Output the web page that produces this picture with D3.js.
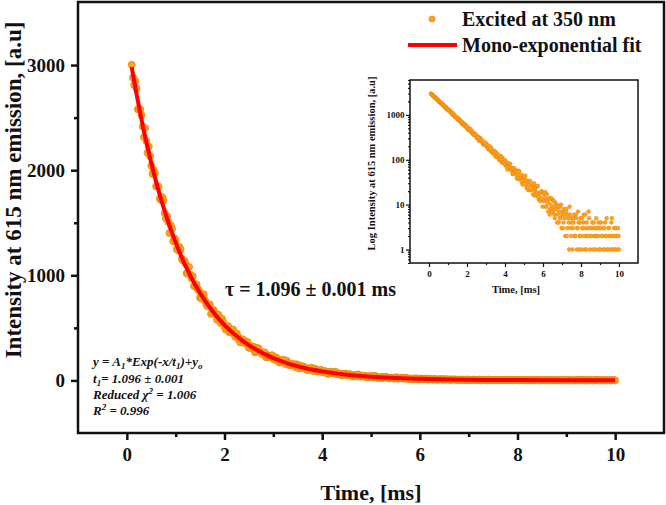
<!DOCTYPE html>
<html>
<head>
<meta charset="utf-8">
<script src="https://cdn.jsdelivr.net/npm/d3@7"></script>
<style>
  body { margin: 0; background: #fff; }
  text { font-family: "Liberation Serif", "Times New Roman", serif; font-weight: bold; fill: #111; }
</style>
</head>
<body>
<svg></svg>
<script>
// measured decay, time in ms and intensity in counts (channels on the 0.05 ms grid)
const timeMs = [
  0.10,0.15,0.20,0.25,0.30,0.35,0.40,0.45,0.50,0.55,0.60,0.65,0.70,0.75,0.80,0.85,0.90,0.95,1.00,1.05,
  1.10,1.15,1.20,1.25,1.30,1.35,1.40,1.45,1.50,1.55,1.60,1.65,1.70,1.75,1.80,1.85,1.90,1.95,2.00,2.05,
  2.10,2.15,2.20,2.25,2.30,2.35,2.40,2.45,2.50,2.55,2.60,2.65,2.70,2.75,2.80,2.85,2.90,2.95,3.00,3.05,
  3.10,3.15,3.20,3.25,3.30,3.35,3.40,3.45,3.50,3.55,3.60,3.65,3.70,3.75,3.80,3.85,3.90,3.95,4.00,4.05,
  4.10,4.15,4.20,4.25,4.30,4.35,4.40,4.45,4.50,4.55,4.60,4.65,4.70,4.75,4.80,4.85,4.90,4.95,5.00,5.05,
  5.10,5.15,5.20,5.25,5.30,5.35,5.40,5.45,5.50,5.55,5.60,5.65,5.70,5.75,5.80,5.85,5.90,5.95,6.00,6.05,
  6.10,6.15,6.20,6.25,6.30,6.35,6.40,6.45,6.50,6.55,6.60,6.65,6.70,6.75,6.80,6.85,6.90,6.95,7.00,7.05,
  7.10,7.15,7.20,7.25,7.30,7.35,7.40,7.45,7.50,7.55,7.60,7.65,7.70,7.75,7.80,7.85,7.90,7.95,8.00,8.05,
  8.10,8.15,8.20,8.25,8.30,8.35,8.40,8.45,8.50,8.55,8.60,8.65,8.70,8.75,8.80,8.85,8.90,8.95,9.00,9.05,
  9.10,9.15,9.20,9.25,9.30,9.35,9.40,9.45,9.50,9.55,9.60,9.65,9.70,9.75,9.80,9.85,9.90,9.95,10.00
];
const counts = [
  3003,2811,2778,2585,2524,2315,2277,2226,2043,1999,1846,1843,1716,1713,1542,1508,1475,1325,1334,1239,
  1245,1141,1116,1015,1007,990,896,870,789,819,765,706,722,654,648,577,588,587,513,506,
  459,477,435,447,385,393,358,369,312,325,317,277,302,264,265,221,236,235,205,220,
  184,185,198,156,167,150,159,127,141,142,116,120,98,116,101,113,85,93,82,91,
  68,80,72,80,59,66,48,64,54,60,46,50,39,55,40,44,31,38,42,30,
  35,23,34,27,34,21,26,22,28,16,24,19,26,15,18,12,19,13,19,12,
  14,9,17,11,13,6,10,8,13,9,6,11,8,4,9,7,5,10,6,3,
  8,5,7,2,6,4,9,3,5,1,4,6,2,5,3,7,1,4,2,5,
  3,6,1,3,4,2,7,0,3,2,4,1,3,2,5,0,2,3,1,4,
  2,0,3,1,2,5,1,3,2,0,4,1,2,3,1,2,0,3,1
];
// channels in between (0.025 ms offset)
const timeMid = [
  0.125,0.175,0.225,0.275,0.325,0.375,0.425,0.475,0.525,0.575,0.625,0.675,0.725,0.775,0.825,0.875,0.925,0.975,1.025,1.075,
  1.125,1.175,1.225,1.275,1.325,1.375,1.425,1.475,1.525,1.575,1.625,1.675,1.725,1.775,1.825,1.875,1.925,1.975,2.025,2.075,
  2.125,2.175,2.225,2.275,2.325,2.375,2.425,2.475,2.525,2.575,2.625,2.675,2.725,2.775,2.825,2.875,2.925,2.975,3.025,3.075,
  3.125,3.175,3.225,3.275,3.325,3.375,3.425,3.475,3.525,3.575,3.625,3.675,3.725,3.775,3.825,3.875,3.925,3.975,4.025,4.075,
  4.125,4.175,4.225,4.275,4.325,4.375,4.425,4.475,4.525,4.575,4.625,4.675,4.725,4.775,4.825,4.875,4.925,4.975,5.025,5.075,
  5.125,5.175,5.225,5.275,5.325,5.375,5.425,5.475,5.525,5.575,5.625,5.675,5.725,5.775,5.825,5.875,5.925,5.975,6.025,6.075,
  6.125,6.175,6.225,6.275,6.325,6.375,6.425,6.475,6.525,6.575,6.625,6.675,6.725,6.775,6.825,6.875,6.925,6.975,7.025,7.075,
  7.125,7.175,7.225,7.275,7.325,7.375,7.425,7.475,7.525,7.575,7.625,7.675,7.725,7.775,7.825,7.875,7.925,7.975,8.025,8.075,
  8.125,8.175,8.225,8.275,8.325,8.375,8.425,8.475,8.525,8.575,8.625,8.675,8.725,8.775,8.825,8.875,8.925,8.975,9.025,9.075,
  9.125,9.175,9.225,9.275,9.325,9.375,9.425,9.475,9.525,9.575,9.625,9.675,9.725,9.775,9.825,9.875,9.925,9.975
];
const countsMid = [
  2882,2848,2579,2577,2416,2401,2165,2134,1964,1974,1851,1729,1744,1592,1562,1402,1445,1351,1247,1271,
  1158,1142,1020,1079,972,899,915,857,778,820,726,722,633,671,619,625,545,554,485,517,
  462,485,414,416,361,390,356,364,309,322,267,309,275,248,266,220,233,240,200,208,
  170,193,170,188,144,154,138,154,115,131,132,106,110,122,88,102,88,101,75,83,
  61,83,69,82,58,64,49,65,51,57,38,51,57,36,41,46,28,40,32,44,
  25,31,21,32,33,22,26,17,30,20,24,16,26,13,18,14,20,9,17,13,
  19,9,13,7,14,8,14,7,7,12,5,8,10,6,4,9,5,3,7,4,
  6,2,8,3,5,1,6,2,4,3,5,2,6,1,3,4,2,5,1,3,
  4,2,6,1,2,3,5,1,2,3,0,4,2,1,3,2,4,1,3,0,
  2,1,3,4,2,0,1,3,2,1,5,2,0,1,3,2,1,2
];

// mono-exponential fit
const fitTime = [0.1,0.2,0.3,0.4,0.5,0.6,0.8,1.0,1.2,1.4,1.6,1.8,2.0,2.4,2.8,3.2,3.6,4.0,4.5,5.0,6.0,7.0,8.0,9.0,10.0];
const fitCounts = [2981,2721,2484,2267,2070,1889,1574,1312,1093,911,759,633,527,366,255,177,123,86,55,35,15,6.5,3.2,1.9,1.4];

const xTicks = [0, 2, 4, 6, 8, 10];
const yTicks = [0, 1000, 2000, 3000];
const insetYTicks = [1, 10, 100, 1000];

const W = 666, H = 505;
const margin = { top: 2, right: 2, bottom: 72, left: 78 };
const width = W - margin.left - margin.right,
      height = H - margin.top - margin.bottom;

const dotFill = "#ffa21f", dotStroke = "#e8860c";

const svg = d3.select("svg").attr("width", W).attr("height", H);
const g = svg.append("g").attr("transform", `translate(${margin.left},${margin.top})`);

const x = d3.scaleLinear().domain([-1, 11]).range([0, width]);
const y = d3.scaleLinear().domain([-500, 3600]).range([height, 0]);

const pts = timeMs.map((t, i) => ({ t: t, v: counts[i] }))
  .concat(timeMid.map((t, i) => ({ t: t, v: countsMid[i] })))
  .sort((a, b) => a.t - b.t);

// scatter
g.append("g").selectAll("circle").data(pts).join("circle")
  .attr("cx", d => x(d.t)).attr("cy", d => y(d.v)).attr("r", 3.5)
  .attr("fill", dotFill).attr("stroke", dotStroke).attr("stroke-width", 0.8);

// fit line
g.append("path")
  .datum(fitTime.map((t, i) => ({ t: t, v: fitCounts[i] })))
  .attr("fill", "none").attr("stroke", "#ff0000").attr("stroke-width", 4)
  .attr("d", d3.line().x(d => x(d.t)).y(d => y(d.v)).curve(d3.curveMonotoneX));

// axes
const xAx = g.append("g").attr("transform", `translate(0,${height})`)
  .call(d3.axisBottom(x).tickValues(xTicks).tickSize(7).tickPadding(8).tickFormat(d3.format("d")));
g.append("g").attr("transform", `translate(0,${height})`)
  .call(d3.axisBottom(x).tickValues([1, 3, 5, 7, 9]).tickSize(4).tickFormat(""));
const yAx = g.append("g")
  .call(d3.axisLeft(y).tickValues(yTicks).tickSize(7).tickPadding(6).tickFormat(d3.format("d")));
g.append("g").call(d3.axisLeft(y).tickValues([500, 1500, 2500]).tickSize(4).tickFormat(""));
g.selectAll(".domain").remove();
g.selectAll(".tick line").attr("stroke", "#111").attr("stroke-width", 2.5);
xAx.selectAll("text").style("font-size", "19px");
yAx.selectAll("text").style("font-size", "19px");

g.append("rect").attr("width", width).attr("height", height)
  .attr("fill", "none").attr("stroke", "#111").attr("stroke-width", 2.5);

// axis titles
svg.append("text").attr("x", margin.left + width / 2).attr("y", 500)
  .attr("text-anchor", "middle").style("font-size", "22px").text("Time, [ms]");
svg.append("text").attr("transform", "translate(21,190) rotate(-90)")
  .attr("text-anchor", "middle").style("font-size", "23px").text("Intensity at 615 nm emission, [a.u]");

// legend
svg.append("circle").attr("cx", 432).attr("cy", 19).attr("r", 3)
  .attr("fill", dotFill).attr("stroke", dotStroke).attr("stroke-width", 0.8);
svg.append("text").attr("x", 462).attr("y", 26).style("font-size", "20px").text("Excited at 350 nm");
svg.append("line").attr("x1", 408).attr("x2", 457).attr("y1", 45).attr("y2", 45)
  .attr("stroke", "#ff0000").attr("stroke-width", 4);
svg.append("text").attr("x", 462).attr("y", 52).style("font-size", "20px").text("Mono-exponential fit");

// lifetime
svg.append("text").attr("x", 225).attr("y", 296).style("font-size", "20px").text("τ = 1.096 ± 0.001 ms");

// fit report
const rep = svg.append("g").style("font-style", "italic").style("font-size", "13px");
const l1 = rep.append("text").attr("x", 93).attr("y", 366);
l1.append("tspan").text("y = A");
l1.append("tspan").attr("dy", 3).style("font-size", "9px").text("1");
l1.append("tspan").attr("dy", -3).text("*Exp(-x/t");
l1.append("tspan").attr("dy", 3).style("font-size", "9px").text("1");
l1.append("tspan").attr("dy", -3).text(")+y");
l1.append("tspan").attr("dy", 3).style("font-size", "9px").text("o");
const l2 = rep.append("text").attr("x", 93).attr("y", 383);
l2.append("tspan").text("t");
l2.append("tspan").attr("dy", 3).style("font-size", "9px").text("1");
l2.append("tspan").attr("dy", -3).text("= 1.096 ± 0.001");
const l3 = rep.append("text").attr("x", 93).attr("y", 399);
l3.append("tspan").text("Reduced χ");
l3.append("tspan").attr("dy", -5).style("font-size", "9px").text("2");
l3.append("tspan").attr("dy", 5).text(" = 1.006");
const l4 = rep.append("text").attr("x", 93).attr("y", 415);
l4.append("tspan").text("R");
l4.append("tspan").attr("dy", -5).style("font-size", "9px").text("2");
l4.append("tspan").attr("dy", 5).text(" = 0.996");

// inset, log scale
const ix0 = 410, iy0 = 80, iw = 228, ih = 183;
const ig = svg.append("g").attr("transform", `translate(${ix0},${iy0})`);
const ixs = d3.scaleLinear().domain([-1, 11]).range([0, iw]);
const iys = d3.scaleLog().domain([0.5, 6000]).range([ih, 0]);

ig.append("g").selectAll("circle").data(pts.filter(d => d.v > 0)).join("circle")
  .attr("cx", d => ixs(d.t)).attr("cy", d => iys(d.v)).attr("r", 1.9)
  .attr("fill", dotFill).attr("stroke", dotStroke).attr("stroke-width", 0.5);

const ixAx = ig.append("g").attr("transform", `translate(0,${ih})`)
  .call(d3.axisBottom(ixs).tickValues(xTicks).tickSize(4).tickPadding(4).tickFormat(d3.format("d")));
ig.append("g").attr("transform", `translate(0,${ih})`)
  .call(d3.axisBottom(ixs).tickValues([1, 3, 5, 7, 9]).tickSize(2).tickFormat(""));
const iyAx = ig.append("g")
  .call(d3.axisLeft(iys).tickValues(insetYTicks).tickSize(4).tickPadding(1.5).tickFormat(d3.format("d")));
const minorLog = iys.ticks().filter(v => insetYTicks.indexOf(v) < 0);
ig.append("g").call(d3.axisLeft(iys).tickValues(minorLog).tickSize(2).tickFormat(""));
ig.selectAll(".domain").remove();
ig.selectAll(".tick line").attr("stroke", "#111").attr("stroke-width", 1.2);
ixAx.selectAll("text").style("font-size", "9px");
iyAx.selectAll("text").style("font-size", "9px");
ig.append("rect").attr("width", iw).attr("height", ih)
  .attr("fill", "none").attr("stroke", "#111").attr("stroke-width", 1.5);

ig.append("text").attr("x", iw / 2 - 8).attr("y", 213)
  .attr("text-anchor", "middle").style("font-size", "10.5px").text("Time, [ms]");
ig.append("text").attr("transform", `translate(-35,${ih / 2 - 8}) rotate(-90)`)
  .attr("text-anchor", "middle").style("font-size", "10.5px").text("Log Intensity at 615 nm emission, [a.u]");
</script>
</body>
</html>
